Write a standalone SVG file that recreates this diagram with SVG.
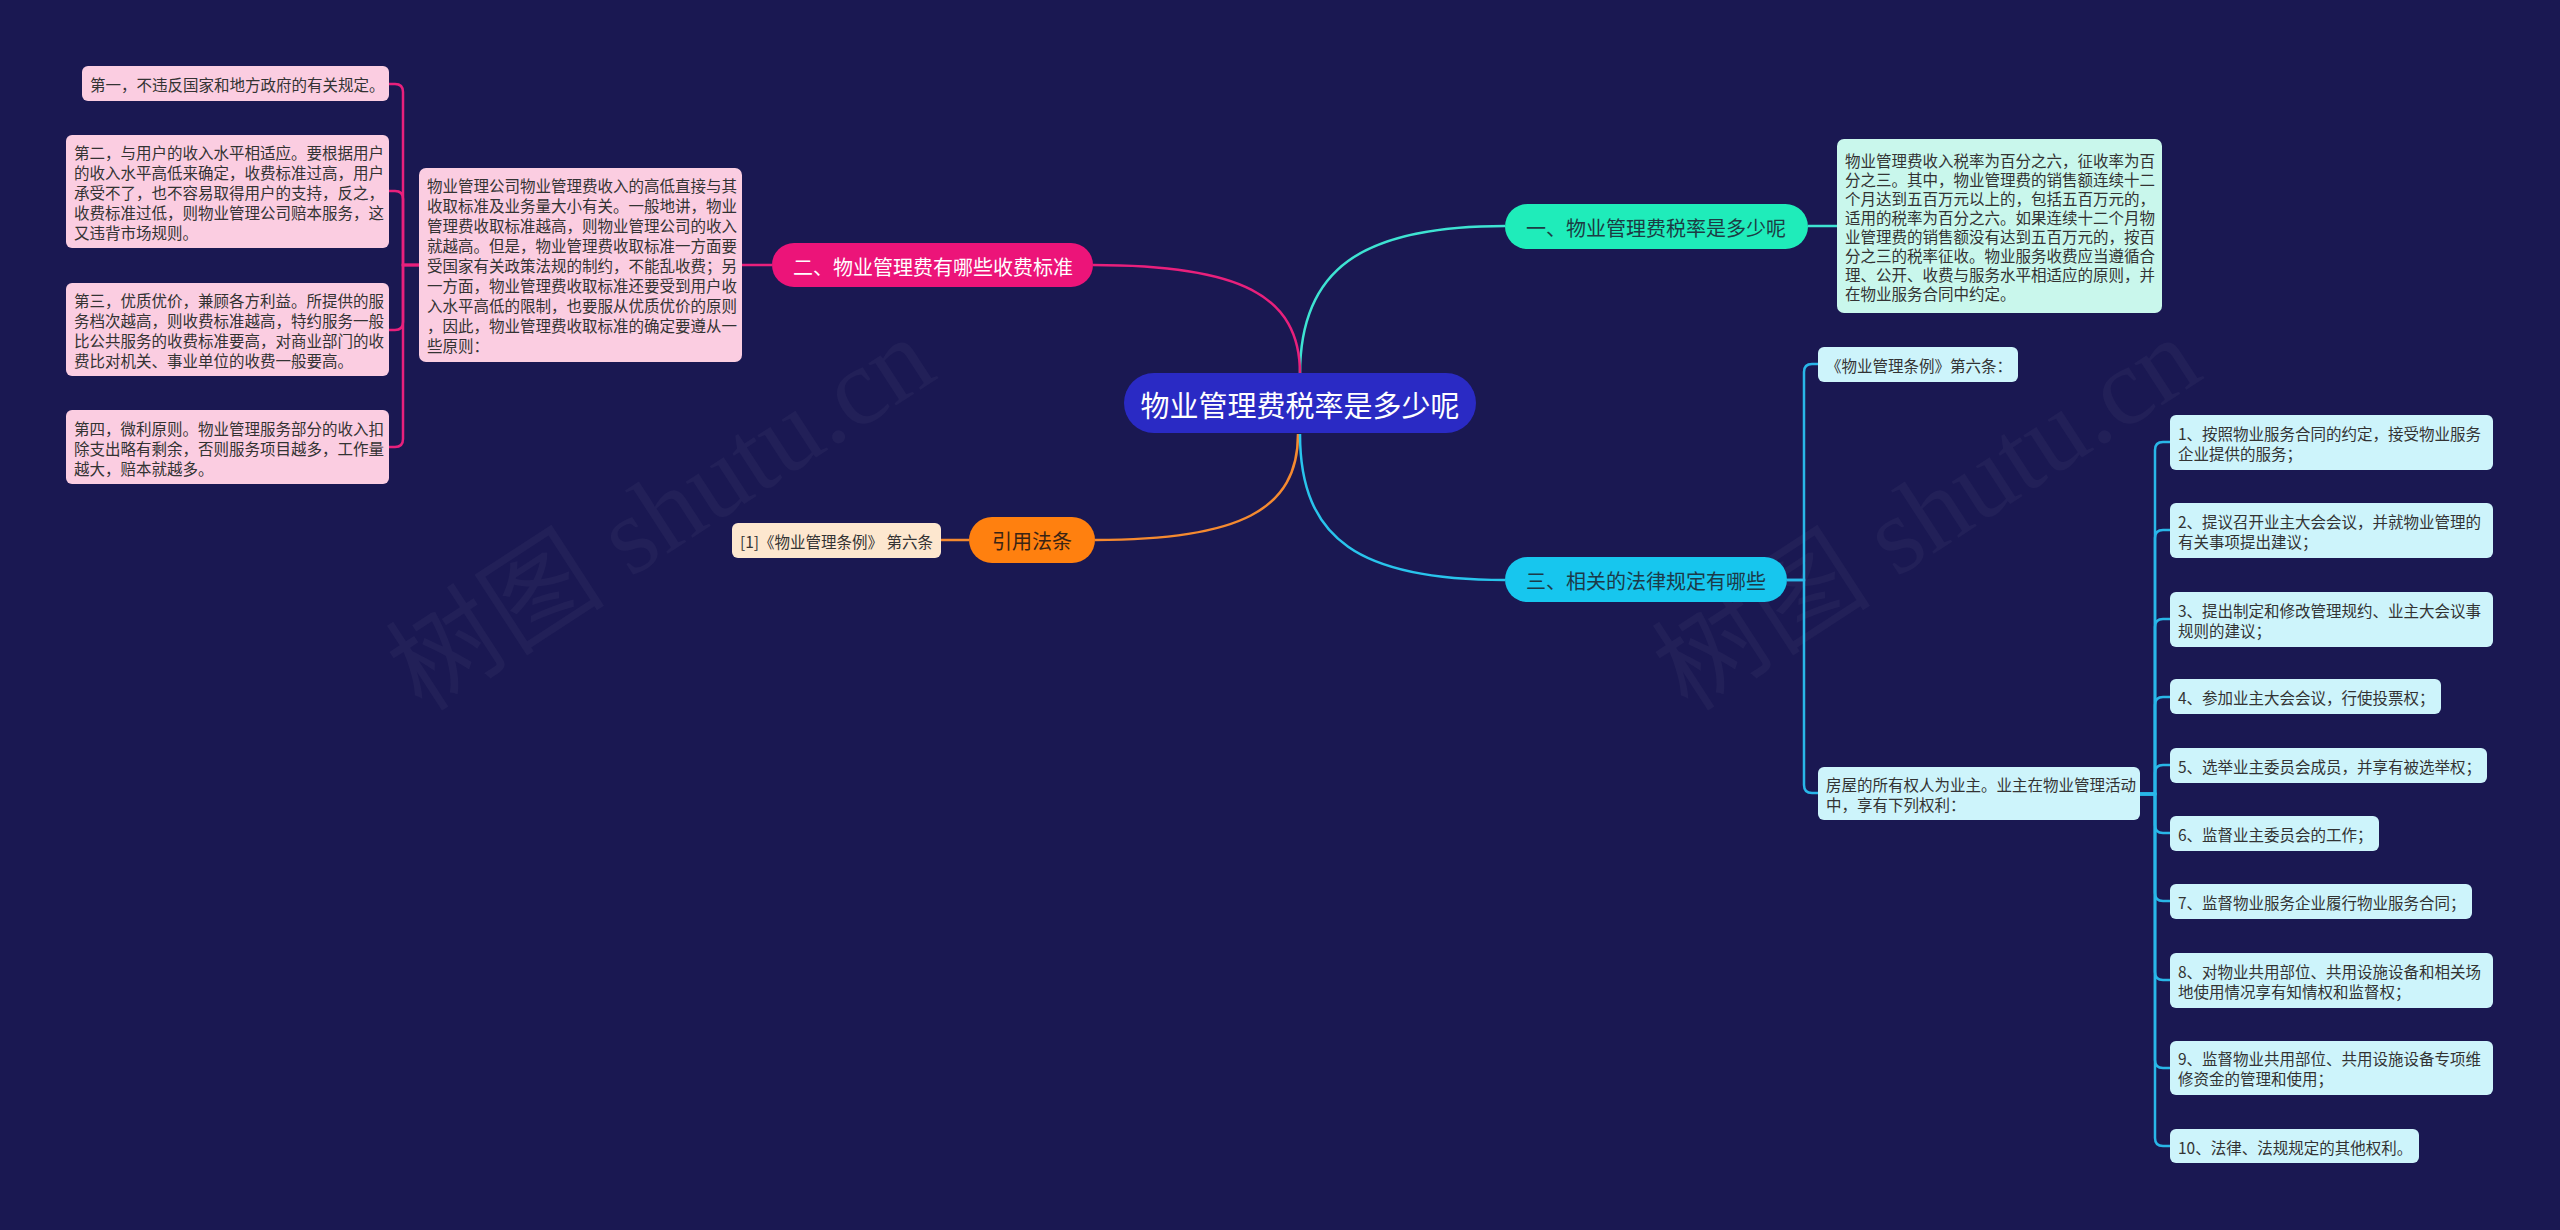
<svg xmlns="http://www.w3.org/2000/svg" width="2560" height="1230" viewBox="0 0 2560 1230">
<style>
text{font-family:"Noto Sans CJK SC","Noto Sans",sans-serif;dominant-baseline:central}
.leaf{font-size:15.5px;fill:#333333}
.br{font-size:20px;text-anchor:middle}
.pk{fill:#fbcde1}
.cy{fill:#cdf4fb}
.tl{fill:#c9f7ec}
.ln{fill:none;stroke-width:2.5}
.wm{font-family:"Liberation Serif","Noto Sans CJK SC",serif;font-size:110px;fill:#ffffff;fill-opacity:0.035}
</style>
<rect width="2560" height="1230" fill="#1a1852"/>
<text class="wm" transform="translate(661,514) rotate(-33)" text-anchor="middle">树图 shutu.cn</text>
<text class="wm" transform="translate(1927,514) rotate(-33)" text-anchor="middle">树图 shutu.cn</text>
<g id="connectors">
<path class="ln" stroke="#3ee3d2" d="M1300 374 C1300 270 1360 226 1505 226"/>
<path class="ln" stroke="#e8207c" d="M1300 374 C1300 295 1240 265 1093 265"/>
<path class="ln" stroke="#f58a30" d="M1298 434 C1298 510 1240 540 1095 540"/>
<path class="ln" stroke="#29c4ec" d="M1300 434 C1300 540 1360 580 1505 580"/>
<path class="ln" stroke="#3ee3d2" d="M1808 226 H1837"/>
<path class="ln" stroke="#e8207c" d="M772 265 H742"/>
<path class="ln" stroke="#f58a30" d="M969 540 H941"/>
<g stroke="#e8207c" class="ln">
<path class="ln" d="M419 265 H403 V92 Q403 84 395 84 H389"/>
<path class="ln" d="M419 265 H403 V199 Q403 191 395 191 H389"/>
<path class="ln" d="M419 265 H403 V322 Q403 330 395 330 H389"/>
<path class="ln" d="M419 265 H403 V439 Q403 447 395 447 H389"/>
</g>
<g stroke="#29b6e8" class="ln">
<path class="ln" d="M1787 580 H1804 V372 Q1804 364 1812 364 H1818"/>
<path class="ln" d="M1787 580 H1804 V785 Q1804 793 1812 793 H1818"/>
<path class="ln" d="M2140 794 H2155 V450 Q2155 442 2163 442 H2170"/>
<path class="ln" d="M2140 794 H2155 V538 Q2155 530 2163 530 H2170"/>
<path class="ln" d="M2140 794 H2155 V627 Q2155 619 2163 619 H2170"/>
<path class="ln" d="M2140 794 H2155 V705 Q2155 697 2163 697 H2170"/>
<path class="ln" d="M2140 794 H2155 V773 Q2155 765 2163 765 H2170"/>
<path class="ln" d="M2140 794 H2155 V825 Q2155 833 2163 833 H2170"/>
<path class="ln" d="M2140 794 H2155 V893 Q2155 901 2163 901 H2170"/>
<path class="ln" d="M2140 794 H2155 V972 Q2155 980 2163 980 H2170"/>
<path class="ln" d="M2140 794 H2155 V1060 Q2155 1068 2163 1068 H2170"/>
<path class="ln" d="M2140 794 H2155 V1138 Q2155 1146 2163 1146 H2170"/>
</g>
</g>
<g id="root">
<rect x="1124" y="373" width="352" height="60" rx="30" fill="#2a2ac4"/>
<text x="1300" y="404" font-size="29" fill="#ffffff" text-anchor="middle">物业管理费税率是多少呢</text>
</g>
<g id="b1">
<rect x="1505" y="204" width="303" height="45" rx="22.5" fill="#1fecba"/>
<text class="br" x="1656" y="227" fill="#1c3c44">一、物业管理费税率是多少呢</text>
</g>
<g id="b1-detail">
<rect class="tl" x="1837" y="139" width="325" height="174" rx="7"/>
<text class="leaf" x="1845"><tspan x="1845" y="160">物业管理费收入税率为百分之六，征收率为百</tspan><tspan x="1845" y="179">分之三。其中，物业管理费的销售额连续十二</tspan><tspan x="1845" y="198">个月达到五百万元以上的，包括五百万元的，</tspan><tspan x="1845" y="217">适用的税率为百分之六。如果连续十二个月物</tspan><tspan x="1845" y="236">业管理费的销售额没有达到五百万元的，按百</tspan><tspan x="1845" y="255">分之三的税率征收。物业服务收费应当遵循合</tspan><tspan x="1845" y="274">理、公开、收费与服务水平相适应的原则，并</tspan><tspan x="1845" y="293">在物业服务合同中约定。</tspan></text>
</g>
<g id="b2">
<rect x="772" y="243" width="321" height="44" rx="22" fill="#ec1479"/>
<text class="br" x="933" y="266" fill="#ffffff">二、物业管理费有哪些收费标准</text>
</g>
<g id="b2-detail">
<rect class="pk" x="419" y="168" width="323" height="194" rx="7"/>
<text class="leaf"><tspan x="427" y="185">物业管理公司物业管理费收入的高低直接与其</tspan><tspan x="427" y="205">收取标准及业务量大小有关。一般地讲，物业</tspan><tspan x="427" y="225">管理费收取标准越高，则物业管理公司的收入</tspan><tspan x="427" y="245">就越高。但是，物业管理费收取标准一方面要</tspan><tspan x="427" y="265">受国家有关政策法规的制约，不能乱收费；另</tspan><tspan x="427" y="285">一方面，物业管理费收取标准还要受到用户收</tspan><tspan x="427" y="305">入水平高低的限制，也要服从优质优价的原则</tspan><tspan x="427" y="325">，因此，物业管理费收取标准的确定要遵从一</tspan><tspan x="427" y="345">些原则：</tspan></text>
</g>
<g id="l1">
<rect class="pk" x="82" y="66" width="307" height="35" rx="6"/>
<text class="leaf" x="90" y="84">第一，不违反国家和地方政府的有关规定。</text>
</g>
<g id="l2">
<rect class="pk" x="66" y="135" width="323" height="113" rx="6"/>
<text class="leaf"><tspan x="74" y="152">第二，与用户的收入水平相适应。要根据用户</tspan><tspan x="74" y="172">的收入水平高低来确定，收费标准过高，用户</tspan><tspan x="74" y="192">承受不了，也不容易取得用户的支持，反之，</tspan><tspan x="74" y="212">收费标准过低，则物业管理公司赔本服务，这</tspan><tspan x="74" y="232">又违背市场规则。</tspan></text>
</g>
<g id="l3">
<rect class="pk" x="66" y="283" width="323" height="93" rx="6"/>
<text class="leaf"><tspan x="74" y="300">第三，优质优价，兼顾各方利益。所提供的服</tspan><tspan x="74" y="320">务档次越高，则收费标准越高，特约服务一般</tspan><tspan x="74" y="340">比公共服务的收费标准要高，对商业部门的收</tspan><tspan x="74" y="360">费比对机关、事业单位的收费一般要高。</tspan></text>
</g>
<g id="l4">
<rect class="pk" x="66" y="410" width="323" height="74" rx="6"/>
<text class="leaf"><tspan x="74" y="428">第四，微利原则。物业管理服务部分的收入扣</tspan><tspan x="74" y="448">除支出略有剩余，否则服务项目越多，工作量</tspan><tspan x="74" y="468">越大，赔本就越多。</tspan></text>
</g>
<g id="ref">
<rect x="969" y="517" width="126" height="46" rx="23" fill="#ff800f"/>
<text class="br" x="1032" y="540" fill="#3a2414">引用法条</text>
</g>
<g id="ref-detail">
<rect x="732" y="523" width="209" height="35" rx="6" fill="#fde7cf"/>
<text class="leaf" x="740" y="541">[1]《物业管理条例》 第六条</text>
</g>
<g id="b3">
<rect x="1505" y="557" width="282" height="45" rx="22.5" fill="#17c6ee"/>
<text class="br" x="1646" y="580" fill="#1c3a48">三、相关的法律规定有哪些</text>
</g>
<g id="b3-a">
<rect class="cy" x="1818" y="347" width="200" height="35" rx="6"/>
<text class="leaf" x="1826" y="365">《物业管理条例》第六条：</text>
</g>
<g id="b3-b">
<rect class="cy" x="1818" y="767" width="322" height="53" rx="6"/>
<text class="leaf"><tspan x="1826" y="784">房屋的所有权人为业主。业主在物业管理活动</tspan><tspan x="1826" y="804">中，享有下列权利：</tspan></text>
</g>
<g id="r1">
<rect class="cy" x="2170" y="415" width="323" height="55" rx="6"/>
<text class="leaf"><tspan x="2178" y="433">1、按照物业服务合同的约定，接受物业服务</tspan><tspan x="2178" y="453">企业提供的服务；</tspan></text>
</g>
<g id="r2">
<rect class="cy" x="2170" y="503" width="323" height="55" rx="6"/>
<text class="leaf"><tspan x="2178" y="521">2、提议召开业主大会会议，并就物业管理的</tspan><tspan x="2178" y="541">有关事项提出建议；</tspan></text>
</g>
<g id="r3">
<rect class="cy" x="2170" y="592" width="323" height="55" rx="6"/>
<text class="leaf"><tspan x="2178" y="610">3、提出制定和修改管理规约、业主大会议事</tspan><tspan x="2178" y="630">规则的建议；</tspan></text>
</g>
<g id="r4">
<rect class="cy" x="2170" y="679" width="271" height="35" rx="6"/>
<text class="leaf" x="2178" y="697">4、参加业主大会会议，行使投票权；</text>
</g>
<g id="r5">
<rect class="cy" x="2170" y="748" width="317" height="35" rx="6"/>
<text class="leaf" x="2178" y="766">5、选举业主委员会成员，并享有被选举权；</text>
</g>
<g id="r6">
<rect class="cy" x="2170" y="816" width="209" height="35" rx="6"/>
<text class="leaf" x="2178" y="834">6、监督业主委员会的工作；</text>
</g>
<g id="r7">
<rect class="cy" x="2170" y="884" width="302" height="35" rx="6"/>
<text class="leaf" x="2178" y="902">7、监督物业服务企业履行物业服务合同；</text>
</g>
<g id="r8">
<rect class="cy" x="2170" y="953" width="323" height="55" rx="6"/>
<text class="leaf"><tspan x="2178" y="971">8、对物业共用部位、共用设施设备和相关场</tspan><tspan x="2178" y="991">地使用情况享有知情权和监督权；</tspan></text>
</g>
<g id="r9">
<rect class="cy" x="2170" y="1041" width="323" height="54" rx="6"/>
<text class="leaf"><tspan x="2178" y="1058">9、监督物业共用部位、共用设施设备专项维</tspan><tspan x="2178" y="1078">修资金的管理和使用；</tspan></text>
</g>
<g id="r10">
<rect class="cy" x="2170" y="1129" width="249" height="34" rx="6"/>
<text class="leaf" x="2178" y="1147">10、法律、法规规定的其他权利。</text>
</g>
</svg>
